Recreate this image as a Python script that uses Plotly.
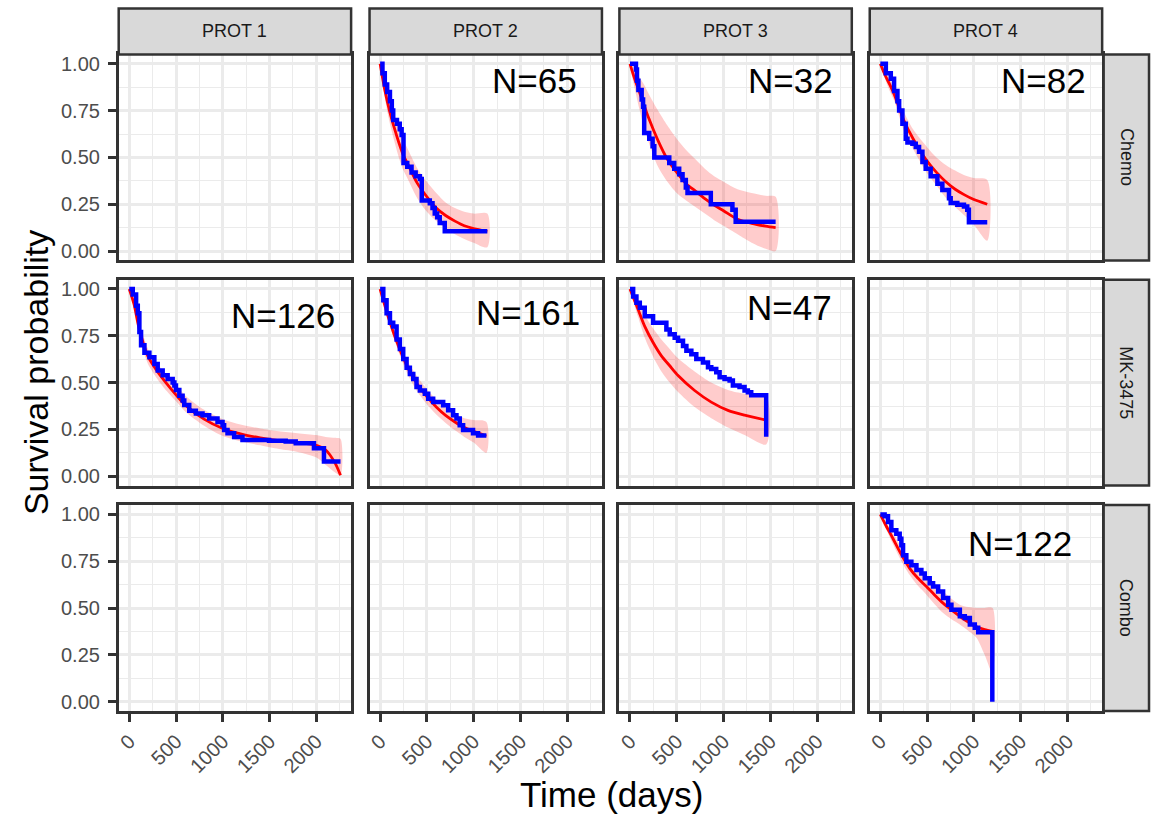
import plotly.graph_objects as go

# ---------------- data ----------------
col_labels = ["PROT 1", "PROT 2", "PROT 3", "PROT 4"]
row_labels = ["Chemo", "MK-3475", "Combo"]
x_ticks = [0, 500, 1000, 1500, 2000]
x_tick_labels = ["0", "500", "1000", "1500", "2000"]
x_minor = [250, 750, 1250, 1750, 2250]
y_ticks = [0, 0.25, 0.5, 0.75, 1.0]
y_tick_labels = ["0.00", "0.25", "0.50", "0.75", "1.00"]
y_minor = [0.125, 0.375, 0.625, 0.875]

# Chemo / PROT 2
km_c2_t = [0, 25, 50, 75, 105, 125, 140, 180, 210, 230, 250, 290, 336, 380, 425, 445, 531, 560, 584, 610, 637, 691, 1146]
km_c2_s = [1.0, 0.95, 0.89, 0.85, 0.80, 0.75, 0.70, 0.68, 0.65, 0.62, 0.47, 0.45, 0.42, 0.40, 0.385, 0.27, 0.255, 0.23, 0.20, 0.18, 0.15, 0.106, 0.106]
fit_c2_t = [0, 50, 100, 150, 200, 250, 300, 400, 500, 600, 700, 800, 900, 1000, 1146]
fit_c2_s = [1.0, 0.86, 0.75, 0.66, 0.58, 0.51, 0.46, 0.36, 0.29, 0.23, 0.19, 0.16, 0.135, 0.12, 0.105]
fit_c2_lo = [1.0, 0.82, 0.69, 0.59, 0.50, 0.43, 0.38, 0.28, 0.21, 0.16, 0.12, 0.09, 0.065, 0.045, 0.02]
fit_c2_hi = [1.0, 0.90, 0.81, 0.73, 0.66, 0.59, 0.54, 0.44, 0.37, 0.31, 0.26, 0.23, 0.21, 0.20, 0.20]

# Chemo / PROT 3
km_c3_t = [0, 64, 75, 90, 125, 140, 152, 206, 242, 260, 420, 473, 526, 562, 597, 615, 864, 1095, 1130, 1557]
km_c3_s = [1.0, 0.97, 0.91, 0.86, 0.81, 0.77, 0.63, 0.60, 0.56, 0.50, 0.47, 0.44, 0.41, 0.38, 0.34, 0.31, 0.25, 0.22, 0.156, 0.156]
fit_c3_t = [0, 50, 100, 150, 200, 300, 400, 500, 600, 700, 800, 900, 1000, 1150, 1300, 1450, 1557]
fit_c3_s = [1.0, 0.92, 0.85, 0.78, 0.71, 0.59, 0.49, 0.42, 0.36, 0.32, 0.28, 0.245, 0.215, 0.17, 0.148, 0.133, 0.125]
fit_c3_lo = [1.0, 0.87, 0.76, 0.66, 0.58, 0.45, 0.37, 0.31, 0.27, 0.235, 0.20, 0.165, 0.135, 0.09, 0.045, 0.012, 0.0]
fit_c3_hi = [1.0, 0.97, 0.93, 0.89, 0.84, 0.75, 0.67, 0.60, 0.54, 0.49, 0.44, 0.40, 0.37, 0.33, 0.31, 0.295, 0.29]

# Chemo / PROT 4
km_c4_t = [0, 59, 112, 147, 183, 201, 236, 272, 290, 343, 379, 414, 450, 485, 538, 610, 663, 734, 752, 823, 894, 929, 947, 1143]
km_c4_s = [1.0, 0.95, 0.92, 0.855, 0.80, 0.75, 0.68, 0.60, 0.58, 0.573, 0.556, 0.53, 0.476, 0.44, 0.40, 0.36, 0.326, 0.282, 0.256, 0.247, 0.238, 0.22, 0.154, 0.154]
fit_c4_t = [0, 50, 100, 150, 250, 350, 500, 600, 700, 800, 900, 1000, 1143]
fit_c4_s = [1.0, 0.94, 0.89, 0.835, 0.70, 0.60, 0.48, 0.42, 0.37, 0.33, 0.30, 0.275, 0.25]
fit_c4_lo = [1.0, 0.92, 0.855, 0.80, 0.645, 0.545, 0.415, 0.35, 0.285, 0.235, 0.19, 0.14, 0.055]
fit_c4_hi = [1.0, 0.96, 0.92, 0.87, 0.745, 0.65, 0.555, 0.50, 0.46, 0.43, 0.405, 0.39, 0.38]

# MK-3475 / PROT 1
km_m1_t = [0, 37, 73, 91, 108, 126, 162, 215, 268, 304, 357, 410, 464, 482, 499, 535, 570, 588, 641, 712, 783, 854, 943, 997, 1014, 1050, 1121, 1210, 1494, 1672, 1779, 1974, 2081, 2258]
km_m1_s = [1.0, 0.97, 0.91, 0.87, 0.77, 0.70, 0.66, 0.635, 0.60, 0.565, 0.54, 0.52, 0.50, 0.485, 0.46, 0.43, 0.405, 0.38, 0.35, 0.335, 0.326, 0.308, 0.29, 0.273, 0.247, 0.23, 0.21, 0.194, 0.19, 0.185, 0.176, 0.15, 0.079, 0.079]
fit_m1_t = [0, 50, 100, 150, 200, 300, 400, 500, 600, 800, 1000, 1200, 1400, 1600, 1800, 2000, 2100, 2200, 2258]
fit_m1_s = [1.0, 0.92, 0.80, 0.71, 0.64, 0.56, 0.495, 0.435, 0.38, 0.305, 0.255, 0.225, 0.205, 0.19, 0.18, 0.165, 0.14, 0.07, 0.005]
fit_m1_lo = [1.0, 0.90, 0.77, 0.67, 0.60, 0.52, 0.455, 0.40, 0.345, 0.27, 0.215, 0.185, 0.165, 0.145, 0.13, 0.10, 0.06, 0.02, 0.005]
fit_m1_hi = [1.0, 0.94, 0.83, 0.75, 0.68, 0.60, 0.545, 0.49, 0.43, 0.355, 0.305, 0.275, 0.255, 0.24, 0.23, 0.22, 0.21, 0.205, 0.20]

# MK-3475 / PROT 2
km_m2_t = [0, 34, 69, 105, 140, 176, 211, 247, 283, 318, 354, 389, 425, 478, 514, 567, 674, 727, 780, 816, 851, 887, 993, 1047, 1136]
km_m2_s = [1.0, 0.94, 0.87, 0.82, 0.80, 0.73, 0.68, 0.626, 0.58, 0.546, 0.52, 0.476, 0.458, 0.44, 0.414, 0.396, 0.379, 0.352, 0.326, 0.308, 0.273, 0.247, 0.229, 0.217, 0.217]
fit_m2_t = [0, 100, 200, 300, 400, 500, 600, 700, 800, 900, 1000, 1136]
fit_m2_s = [1.0, 0.83, 0.69, 0.575, 0.49, 0.425, 0.37, 0.325, 0.29, 0.26, 0.24, 0.215]
fit_m2_lo = [1.0, 0.81, 0.66, 0.54, 0.45, 0.385, 0.33, 0.285, 0.245, 0.21, 0.18, 0.125]
fit_m2_hi = [1.0, 0.85, 0.72, 0.61, 0.53, 0.465, 0.41, 0.365, 0.335, 0.31, 0.30, 0.29]

# MK-3475 / PROT 3
km_m3_t = [0, 34, 69, 105, 158, 247, 389, 425, 478, 514, 567, 603, 656, 709, 780, 834, 869, 922, 958, 1011, 1065, 1100, 1171, 1225, 1260, 1296, 1456]
km_m3_s = [1.0, 0.96, 0.926, 0.90, 0.855, 0.82, 0.784, 0.758, 0.74, 0.723, 0.696, 0.67, 0.652, 0.626, 0.608, 0.582, 0.573, 0.555, 0.529, 0.52, 0.511, 0.485, 0.476, 0.458, 0.449, 0.432, 0.211]
fit_m3_t = [0, 87, 158, 247, 336, 425, 514, 691, 869, 1047, 1225, 1456]
fit_m3_s = [1.0, 0.89, 0.80, 0.714, 0.643, 0.59, 0.538, 0.458, 0.396, 0.352, 0.326, 0.30]
fit_m3_lo = [1.0, 0.85, 0.74, 0.64, 0.56, 0.50, 0.45, 0.37, 0.31, 0.26, 0.22, 0.17]
fit_m3_hi = [1.0, 0.93, 0.86, 0.79, 0.73, 0.68, 0.63, 0.56, 0.50, 0.46, 0.44, 0.43]

# Combo / PROT 4
km_b4_t = [0, 46, 82, 118, 171, 207, 225, 243, 278, 332, 386, 439, 475, 528, 564, 618, 671, 725, 760, 850, 903, 957, 1010, 1046, 1197]
km_b4_s = [1.0, 0.99, 0.96, 0.915, 0.897, 0.87, 0.835, 0.782, 0.747, 0.729, 0.703, 0.685, 0.659, 0.632, 0.615, 0.588, 0.553, 0.518, 0.491, 0.456, 0.447, 0.412, 0.394, 0.37, 0.0]
fit_b4_t = [0, 50, 136, 225, 314, 400, 493, 580, 671, 760, 850, 940, 1028, 1115, 1200]
fit_b4_s = [1.0, 0.95, 0.87, 0.785, 0.712, 0.66, 0.615, 0.57, 0.526, 0.49, 0.456, 0.425, 0.40, 0.385, 0.375]
fit_b4_lo = [1.0, 0.935, 0.84, 0.75, 0.676, 0.62, 0.571, 0.52, 0.473, 0.44, 0.412, 0.378, 0.341, 0.25, 0.15]
fit_b4_hi = [1.0, 0.965, 0.90, 0.82, 0.747, 0.70, 0.659, 0.62, 0.588, 0.55, 0.518, 0.505, 0.50, 0.50, 0.50]

n_labels = {(0, 1): "N=65", (0, 2): "N=32", (0, 3): "N=82",
            (1, 0): "N=126", (1, 1): "N=161", (1, 2): "N=47", (2, 3): "N=122"}
n_label_x = {(0, 1): 1654, (0, 2): 1721, (0, 3): 1742,
             (1, 0): 1646, (1, 1): 1577, (1, 2): 1710, (2, 3): 1497}
n_label_y = {(0, 1): 0.909, (0, 2): 0.909, (0, 3): 0.909,
             (1, 0): 0.861, (1, 1): 0.872, (1, 2): 0.899, (2, 3): 0.844}

panels = {
    (0, 1): (km_c2_t, km_c2_s, fit_c2_t, fit_c2_s, fit_c2_lo, fit_c2_hi),
    (0, 2): (km_c3_t, km_c3_s, fit_c3_t, fit_c3_s, fit_c3_lo, fit_c3_hi),
    (0, 3): (km_c4_t, km_c4_s, fit_c4_t, fit_c4_s, fit_c4_lo, fit_c4_hi),
    (1, 0): (km_m1_t, km_m1_s, fit_m1_t, fit_m1_s, fit_m1_lo, fit_m1_hi),
    (1, 1): (km_m2_t, km_m2_s, fit_m2_t, fit_m2_s, fit_m2_lo, fit_m2_hi),
    (1, 2): (km_m3_t, km_m3_s, fit_m3_t, fit_m3_s, fit_m3_lo, fit_m3_hi),
    (2, 3): (km_b4_t, km_b4_s, fit_b4_t, fit_b4_s, fit_b4_lo, fit_b4_hi),
}

# ---------------- layout geometry (pixels) ----------------
W, H = 1158, 817
col_left = [116, 367.5, 618, 869]
col_w = 233
row_top = [52.7, 279, 505.5]
row_h = 207
strip_top = 6.5
strip_right_x0, strip_right_x1 = 1103.5, 1149
FONT = "Liberation Sans, Arial, sans-serif"
BORDER = "#333333"
GRID = "#ebebeb"
TICK_SIZE = 20
STRIP_SIZE = 18

def px(x):
    return x / W

def py(y):
    return 1 - y / H

fig = go.Figure()
layout = {}
annotations = []
shapes = []

for r in range(3):
    for c in range(4):
        k = r * 4 + c + 1
        xname = "x" if k == 1 else f"x{k}"
        yname = "y" if k == 1 else f"y{k}"
        xkey = "xaxis" if k == 1 else f"xaxis{k}"
        ykey = "yaxis" if k == 1 else f"yaxis{k}"
        bottom = r == 2
        left = c == 0
        layout[xkey] = dict(
            domain=[px(col_left[c]), px(col_left[c] + col_w)],
            anchor=yname, range=[-113, 2371],
            tickmode="array", tickvals=x_ticks, ticktext=x_tick_labels,
            showticklabels=bottom, ticks="outside" if bottom else "",
            ticklen=8, tickwidth=2.5, tickcolor=BORDER, tickangle=-45,
            tickfont=dict(size=TICK_SIZE, color="#4d4d4d", family=FONT),
            showgrid=True, gridcolor=GRID, gridwidth=2.6,
            minor=dict(tickvals=x_minor, showgrid=True, gridcolor=GRID, gridwidth=1.3),
            showline=True, mirror=True, linecolor=BORDER, linewidth=2.5,
            zeroline=False, fixedrange=True,
        )
        layout[ykey] = dict(
            domain=[py(row_top[r] + row_h), py(row_top[r])],
            anchor=xname, range=[-0.05, 1.05],
            tickmode="array", tickvals=y_ticks, ticktext=y_tick_labels,
            showticklabels=left, ticks="outside" if left else "",
            ticklen=8, tickwidth=2.5, tickcolor=BORDER, ticklabelstandoff=4,
            tickfont=dict(size=TICK_SIZE, color="#4d4d4d", family=FONT),
            showgrid=True, gridcolor=GRID, gridwidth=2.6,
            minor=dict(tickvals=y_minor, showgrid=True, gridcolor=GRID, gridwidth=1.3),
            showline=True, mirror=True, linecolor=BORDER, linewidth=2.5,
            zeroline=False, fixedrange=True,
        )
        if (r, c) in panels:
            km_t, km_s, ft, fs, flo, fhi = panels[(r, c)]
            fig.add_trace(go.Scatter(
                x=list(ft) + list(ft)[::-1], y=list(fhi) + list(flo)[::-1],
                fill="toself", fillcolor="rgba(255,0,0,0.2)", mode="lines",
                line=dict(width=0, shape="spline", smoothing=0.8),
                xaxis=xname, yaxis=yname, hoverinfo="skip", showlegend=False))
            fig.add_trace(go.Scatter(
                x=ft, y=fs, mode="lines",
                line=dict(color="red", width=2.8, shape="spline", smoothing=0.8),
                xaxis=xname, yaxis=yname, showlegend=False))
            fig.add_trace(go.Scatter(
                x=km_t, y=km_s, mode="lines",
                line=dict(color="blue", width=4.5, shape="hv"),
                xaxis=xname, yaxis=yname, showlegend=False))
            annotations.append(dict(
                text=n_labels[(r, c)], x=n_label_x[(r, c)], y=n_label_y[(r, c)],
                xref=xname, yref=yname, showarrow=False,
                xanchor="center", yanchor="middle",
                font=dict(size=35, color="black", family=FONT)))
        else:
            # empty facet: invisible placeholder so the panel is drawn
            fig.add_trace(go.Scatter(
                x=[0], y=[0], mode="markers", marker=dict(opacity=0),
                xaxis=xname, yaxis=yname, hoverinfo="skip", showlegend=False))

# top strips
for c, lab in enumerate(col_labels):
    shapes.append(dict(type="rect", xref="paper", yref="paper",
                       x0=px(col_left[c]), x1=px(col_left[c] + col_w),
                       y0=py(row_top[0]), y1=py(strip_top),
                       fillcolor="#d9d9d9", line=dict(color=BORDER, width=2.5)))
    annotations.append(dict(text=lab, xref="paper", yref="paper",
                            x=px(col_left[c] + col_w / 2), y=py((strip_top + row_top[0]) / 2),
                            showarrow=False, xanchor="center", yanchor="middle",
                            font=dict(size=STRIP_SIZE, color="#1a1a1a", family=FONT)))
# right strips
for r, lab in enumerate(row_labels):
    shapes.append(dict(type="rect", xref="paper", yref="paper",
                       x0=px(strip_right_x0), x1=px(strip_right_x1),
                       y0=py(row_top[r] + row_h), y1=py(row_top[r]),
                       fillcolor="#d9d9d9", line=dict(color=BORDER, width=2.5)))
    annotations.append(dict(text=lab, xref="paper", yref="paper",
                            x=px((strip_right_x0 + strip_right_x1) / 2),
                            y=py(row_top[r] + row_h / 2),
                            showarrow=False, xanchor="center", yanchor="middle", textangle=90,
                            font=dict(size=STRIP_SIZE, color="#1a1a1a", family=FONT)))

# axis titles
annotations.append(dict(text="Survival probability", xref="paper", yref="paper",
                        x=px(33), y=py(372), showarrow=False, textangle=-90,
                        xanchor="center", yanchor="middle",
                        font=dict(size=34, color="black", family=FONT)))
annotations.append(dict(text="Time (days)", xref="paper", yref="paper",
                        x=px(610), y=py(796), showarrow=False,
                        xanchor="center", yanchor="middle",
                        font=dict(size=35, color="black", family=FONT)))

fig.update_layout(
    width=W, height=H, margin=dict(l=0, r=0, t=0, b=0),
    paper_bgcolor="white", plot_bgcolor="white",
    font=dict(family=FONT), showlegend=False,
    annotations=annotations, shapes=shapes, **layout)

fig.write_html("out.html")
